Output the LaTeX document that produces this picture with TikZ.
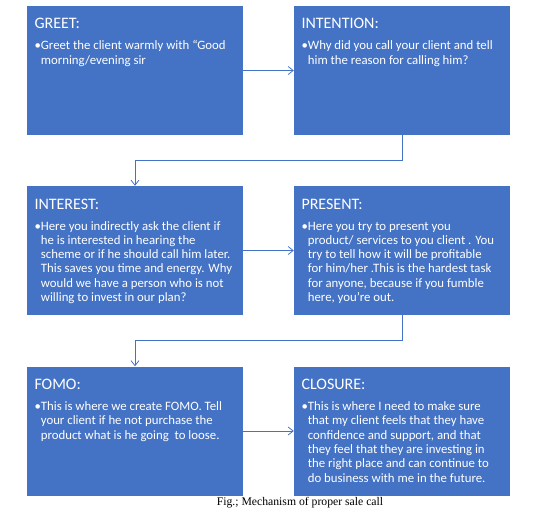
\documentclass[tikz,border=0pt]{standalone}
\usepackage{fontspec}
\setmainfont{Carlito}
\newfontfamily\capfont{Liberation Serif}
\usetikzlibrary{arrows.meta}
\definecolor{cardblue}{HTML}{4472C4}
\newcommand{\cardtext}[2]{\parbox[c][129pt][t]{201pt}{\raggedright\fontsize{16}{19}\selectfont\rule{0pt}{23pt}#1\par\vspace{6.7pt}%
  \fontsize{12.8}{14.3}\selectfont\textbullet\parbox[t]{200pt}{\raggedright #2}}}
\begin{document}
\begin{tikzpicture}[x=1pt,y=-1pt, card/.style={rectangle,fill=cardblue,text=white,inner sep=0pt,minimum width=216pt,minimum height=129pt}, flow/.style={draw=cardblue,line width=0.8pt,-{Straight Barb[length=5pt,width=8pt]}}]
\useasboundingbox (0,0) rectangle (533,519);
\node[card] (greet) at (135,70.5) {\cardtext{GREET:}{Greet the client warmly with “Good\\ morning/evening sir}};
\node[card] (intention) at (402,70.5) {\cardtext{INTENTION:}{Why did you call your client and tell\\ him the reason for calling him?}};
\node[card] (interest) at (135,250.5) {\cardtext{INTEREST:}{Here you indirectly ask the client if\\ he is interested in hearing the\\ scheme or if he should call him later.\\ This saves you time and energy. Why\\ would we have a person who is not\\ willing to invest in our plan?}};
\node[card] (present) at (402,250.5) {\cardtext{PRESENT:}{Here you try to present you\\ product/ services to you client . You\\ try to tell how it will be profitable\\ for him/her .This is the hardest task\\ for anyone, because if you fumble\\ here, you're out.}};
\node[card] (fomo) at (135,431) {\cardtext{FOMO:}{This is where we create FOMO. Tell\\ your client if he not purchase the\\ product what is he going\ \ to loose.}};
\node[card] (closure) at (402,431) {\cardtext{CLOSURE:}{This is where I need to make sure\\ that my client feels that they have\\ confidence and support, and that\\ they feel that they are investing in\\ the right place and can continue to\\ do business with me in the future.}};
\draw[flow] (greet.east) -- (intention.west);
\draw[flow] (intention.south) -- ++(0,25) -| (interest.north);
\draw[flow] (interest.east) -- (present.west);
\draw[flow] (present.south) -- ++(0,25) -| (fomo.north);
\draw[flow] (fomo.east) -- (closure.west);
\node[font=\capfont\fontsize{11.7}{13}\selectfont,inner sep=0pt] (caption) at (300,503) {Fig.; Mechanism of proper sale call};
\end{tikzpicture}
\end{document}
